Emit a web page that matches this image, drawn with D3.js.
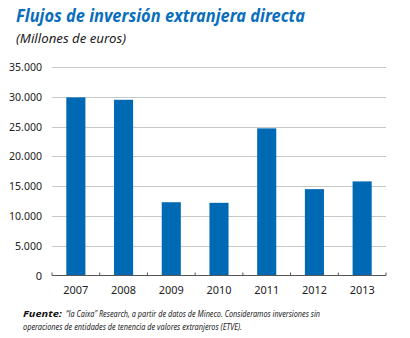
<!DOCTYPE html>
<html><head><meta charset="utf-8">
<script src="https://cdn.jsdelivr.net/npm/d3@7"></script>
<style>
body{margin:0;background:#fff;}
svg{display:block;}
text{font-family:"Noto Sans","Open Sans",sans-serif;}
</style></head>
<body>
<svg id="chart" width="410" height="338"></svg>
<script>
const categories = ["2007","2008","2009","2010","2011","2012","2013"];
const values = [29900, 29500, 12300, 12200, 24700, 14500, 15800];
const yTicks = [0,5000,10000,15000,20000,25000,30000,35000];
const yTickLabels = ["0","5.000","10.000","15.000","20.000","25.000","30.000","35.000"];

(function(){
const svg = d3.select("#chart");
const mLeft = 52, mRight = 386, mTop = 67, mBottom = 275.5;

const x = d3.scaleBand().domain(categories).range([mLeft, mRight]).paddingInner(0.6).paddingOuter(0.3);
const y = d3.scaleLinear().domain([0, 35000]).range([mBottom, mTop]);

// title
svg.append("text").attr("x",16).attr("y",22)
  .attr("font-size",18).attr("font-weight","bold").attr("font-style","italic")
  .attr("fill","#0a6ebd").attr("textLength",289).attr("lengthAdjust","spacingAndGlyphs")
  .text("Flujos de inversión extranjera directa");
svg.append("text").attr("x",16).attr("y",43)
  .attr("font-size",13).attr("font-style","italic").attr("fill","#222")
  .attr("textLength",110).attr("lengthAdjust","spacingAndGlyphs")
  .text("(Millones de euros)");

// gridlines
svg.append("g").selectAll("line").data(yTicks.filter(d=>d>0)).join("line")
  .attr("x1",mLeft).attr("x2",mRight)
  .attr("y1",d=>Math.round(y(d))+0.5).attr("y2",d=>Math.round(y(d))+0.5)
  .attr("stroke","#c8c8c8").attr("stroke-width",1);

// y labels
svg.append("g").selectAll("text").data(yTicks).join("text")
  .attr("x",42).attr("y",d=>y(d)+4)
  .attr("text-anchor","end").attr("font-size",11).attr("fill","#222")
  .each(function(d,i){
    const n = yTickLabels[i].length;
    if(n>1){ d3.select(this).attr("textLength", n===5?27:33).attr("lengthAdjust","spacingAndGlyphs"); }
  })
  .text((d,i)=>yTickLabels[i]);

// bars
svg.append("g").selectAll("rect").data(values).join("rect")
  .attr("x",(d,i)=>x(categories[i]))
  .attr("width",x.bandwidth())
  .attr("y",d=>y(d))
  .attr("height",d=>mBottom - y(d))
  .attr("fill","#0069b4");

// x axis
const xAxis = d3.axisBottom(x).tickSize(0).tickFormat(d=>d);
const gx = svg.append("g").attr("transform",`translate(0,${mBottom})`).call(xAxis);
gx.select(".domain").attr("stroke","#555").attr("d",`M${mLeft},0H${mRight}`);
gx.selectAll(".tick text").attr("font-size",11).attr("fill","#222").attr("dy",0).attr("y",18.5)
  .attr("textLength",25).attr("lengthAdjust","spacingAndGlyphs")
  .attr("font-family","'Noto Sans','Open Sans',sans-serif");
const bounds = d3.range(categories.length+1).map(i=>mLeft + i*(mRight-mLeft)/categories.length);
gx.append("g").selectAll("line").data(bounds).join("line")
  .attr("x1",d=>d).attr("x2",d=>d).attr("y1",-3).attr("y2",0)
  .attr("stroke","#555").attr("stroke-width",1);

// footnote
svg.append("text").attr("x",23).attr("y",317).attr("font-size",9.5).attr("font-style","italic")
  .attr("font-weight","bold").attr("fill","#111")
  .attr("textLength",39).attr("lengthAdjust","spacingAndGlyphs").text("Fuente:");
svg.append("text").attr("x",66).attr("y",317).attr("font-size",9.5).attr("font-style","italic").attr("fill","#222")
  .attr("textLength",254).attr("lengthAdjust","spacingAndGlyphs")
  .text("“la Caixa” Research, a partir de datos de Mineco. Consideramos inversiones sin");
svg.append("text").attr("x",23).attr("y",330).attr("font-size",9.5).attr("font-style","italic").attr("fill","#222")
  .attr("textLength",219).attr("lengthAdjust","spacingAndGlyphs")
  .text("operaciones de entidades de tenencia de valores extranjeros (ETVE).");
})();
</script>
</body></html>
